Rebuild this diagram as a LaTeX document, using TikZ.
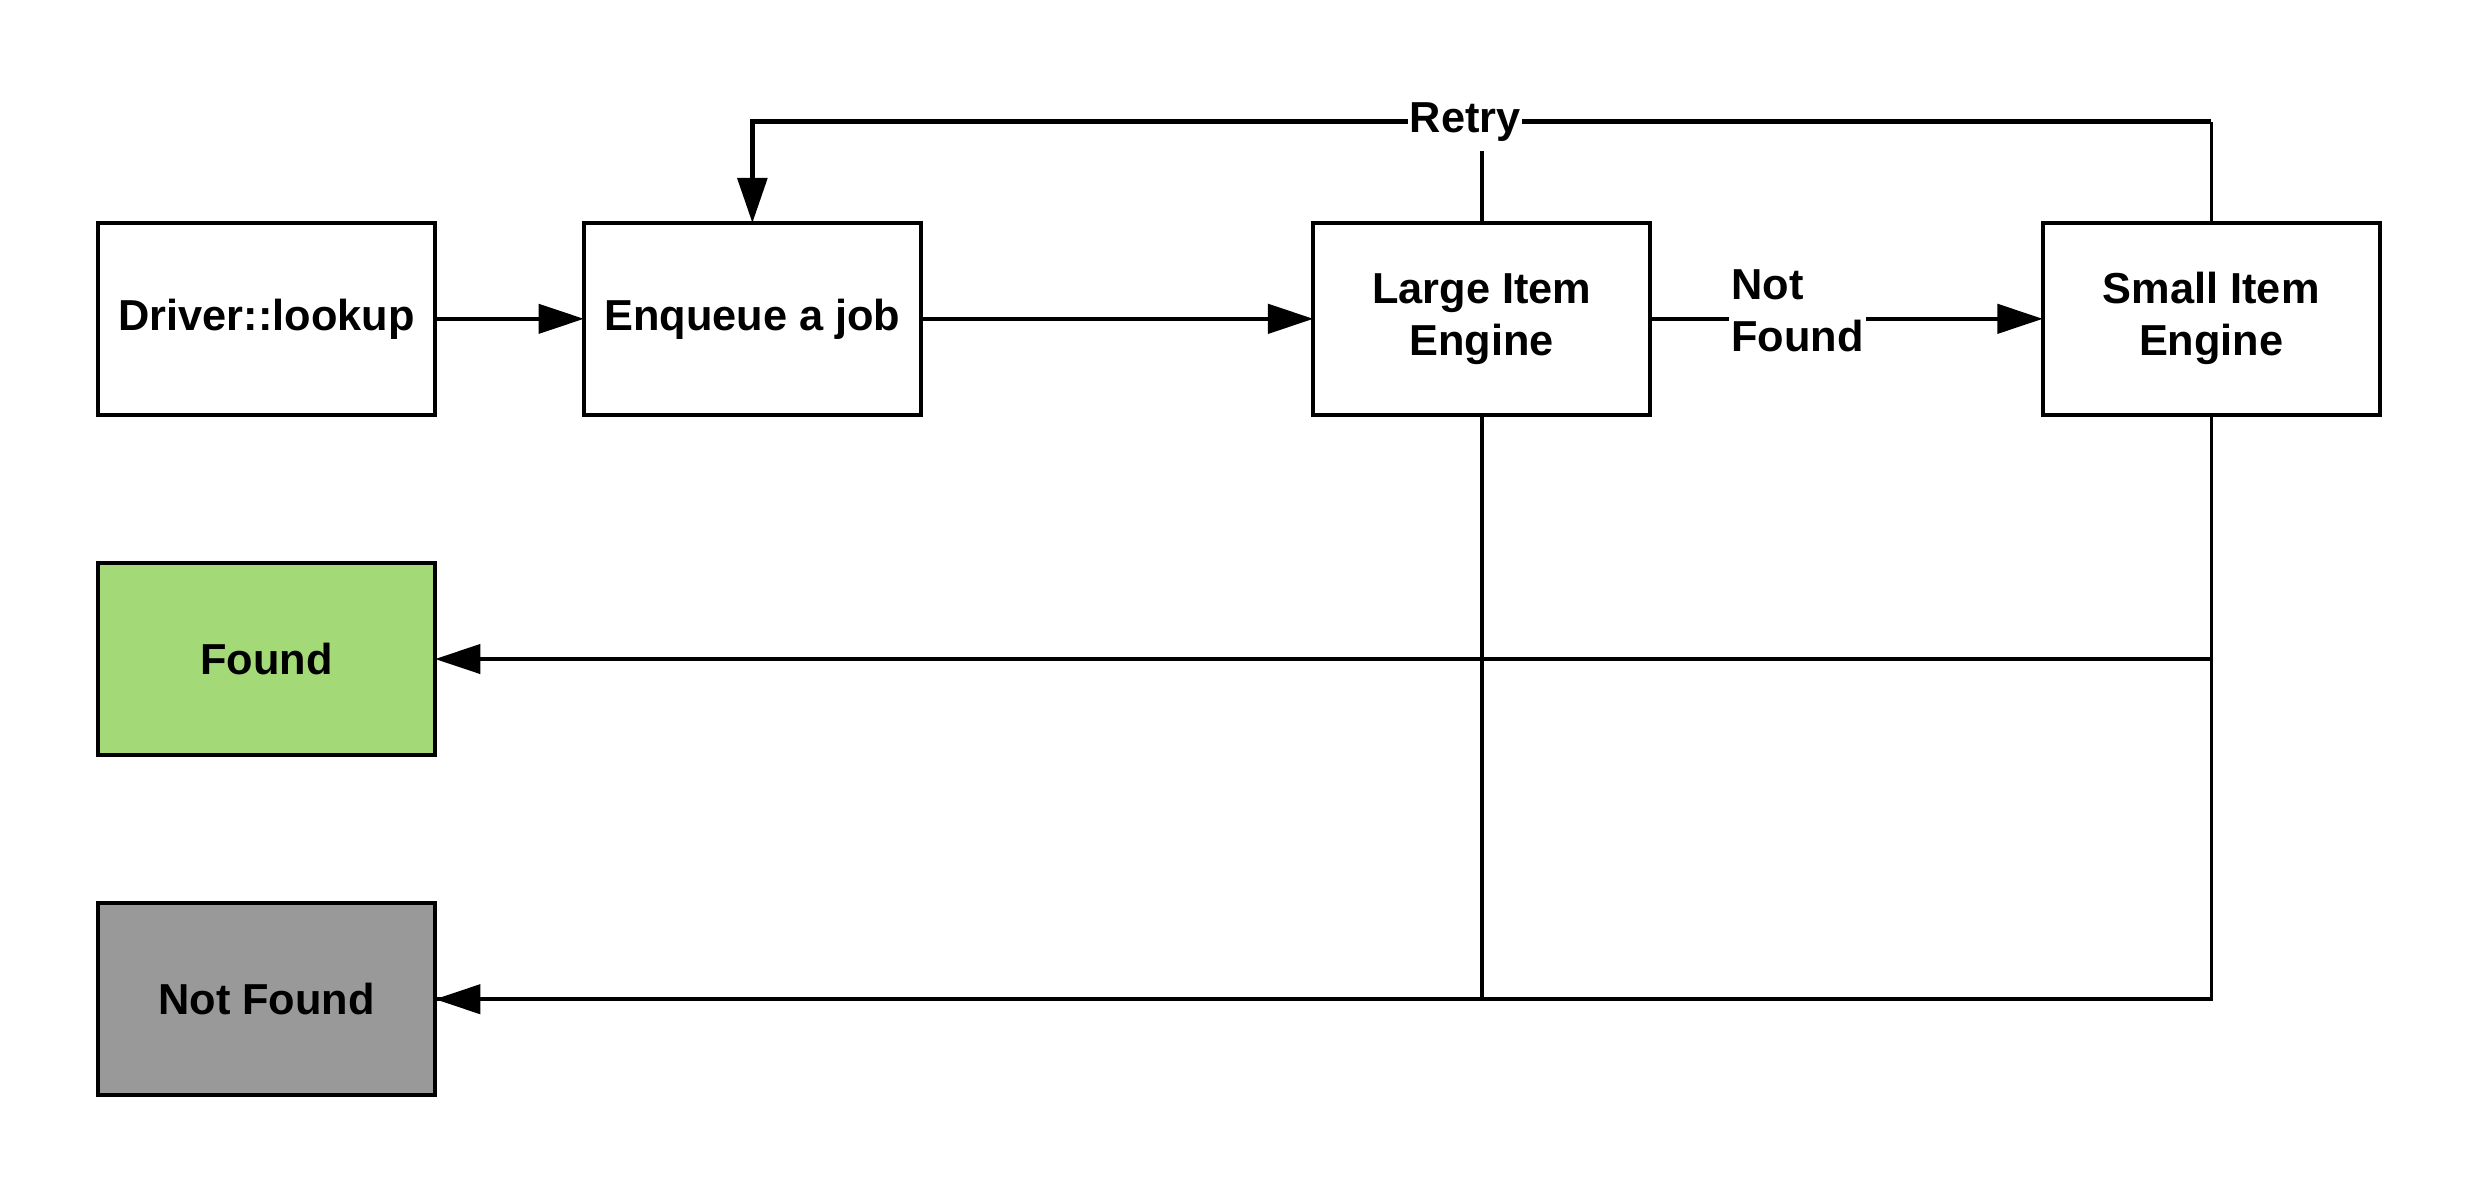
\documentclass[tikz,border=0pt]{standalone}
\usepackage{fontspec}
\setmainfont{Liberation Sans}
\usetikzlibrary{arrows.meta}
\definecolor{foundgreen}{HTML}{A3D977}
\definecolor{nfgray}{HTML}{999999}
\begin{document}
\begin{tikzpicture}[x=1.1867pt,y=-1.1867pt,
  box/.style={draw=black, line width=3pt, minimum width=252.8pt, minimum height=143.6pt,
    inner sep=0pt, outer sep=0pt, align=center, font=\bfseries\fontsize{32.5}{39}\selectfont},
  conn/.style={draw=black, line width=2.6pt},
  thickconn/.style={draw=black, line width=4pt},
  tip/.style={-{Triangle[length=34pt,width=22pt]}},
  lbl/.style={fill=white, font=\bfseries\fontsize{32.5}{39}\selectfont, align=left}]
\useasboundingbox (0,0) rectangle (1568,755.2);
\node[box] (drv) at (168.5,201.5) {Driver::lookup};
\node[box] (enq) at (475.5,201.5) {Enqueue a job};
\node[box] (large) at (936.5,201.5) {Large Item\\Engine};
\node[box] (small) at (1397.5,201.5) {Small Item\\Engine};
\node[box, fill=foundgreen] (found) at (168.5,416.5) {Found};
\node[box, fill=nfgray] (nf) at (168.5,631.5) {Not Found};
\coordinate (top) at (0,77);
% main flow
\draw[conn, tip] (drv.east) -- (enq.west);
\draw[conn, tip] (enq.east) -- (large.west);
\draw[conn, tip] (large.east) -- (small.west);
% retry
\draw[conn] (large.north) -- (large.north |- top);
\draw[conn] (small.north) -- (small.north |- top);
\draw[thickconn, tip] (small.north |- top) -| (enq.north);
% results
\draw[conn] (small.south) |- (nf.east);
\draw[conn, tip] (small.south |- found.east) -- (found.east);
\draw[conn, tip] (large.south |- nf.east) -- (nf.east);
\draw[conn] (large.south) -- (large.south |- nf.east);
% labels
\node[lbl, inner xsep=1pt, inner ysep=7pt, anchor=base] (retry) at (926,84) {Retry};
\node[lbl, inner xsep=1.5pt, inner ysep=2pt] (nflbl) at (1136,196.5) {Not\\Found};
\end{tikzpicture}
\end{document}
